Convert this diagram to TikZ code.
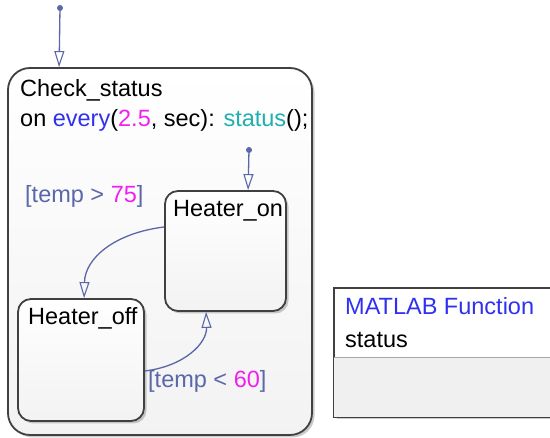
\documentclass[tikz,border=0pt]{standalone}
\usepackage{fontspec}
\setmainfont{Liberation Sans}
\usetikzlibrary{arrows.meta,shadows,calc}
\definecolor{trans}{HTML}{5A67A8}
\definecolor{mag}{HTML}{F020F0}
\definecolor{kwblue}{HTML}{3030F0}
\definecolor{teal2}{HTML}{20B0B0}
\definecolor{edge}{HTML}{404040}
\tikzset{
  chartstate/.style={draw=edge, line width=1.8pt, rounded corners=#1, top color=white, bottom color=black!5,
    drop shadow={shadow xshift=2.5pt, shadow yshift=-2.5pt, fill=black!45, opacity=.45}},
  transline/.style={draw=trans, line width=1.3pt, -{Triangle[open, length=16pt, width=10pt, line width=1.1pt]}},
  initdot/.style={circle, fill=trans, inner sep=0pt, minimum size=6pt},
  lbl/.style={anchor=base west, inner sep=0pt, font=\fontsize{23.5}{28}\selectfont},
}
\begin{document}
\begin{tikzpicture}[x=1pt,y=1pt]
\useasboundingbox (0,0) rectangle (550,438);
\clip (0,0) rectangle (550,438);
\fill[white] (0,0) rectangle (550,438);
% outer state
\node[chartstate=22pt, minimum width=304pt, minimum height=367pt] (cs) at (160,186.5) {};
\node[chartstate=13pt, minimum width=121pt, minimum height=120pt] (hon) at (225.5,187) {};
\node[chartstate=13pt, minimum width=126pt, minimum height=122pt] (hoff) at (81,78) {};
% MATLAB function box
\node[draw=edge, line width=1.8pt, fill=white, minimum width=226pt, minimum height=129pt,
  drop shadow={shadow xshift=2.5pt, shadow yshift=-2.5pt, fill=black!45, opacity=.45}] (mf) at (447,85.5) {};
\fill[black!6] ($(mf.south west)+(0.9,0.9)$) rectangle ($(mf.east)+(-0.9,-5)$);
\draw[black!35, line width=0.8pt] ($(mf.west)+(0.9,-5)$) -- ($(mf.east)+(-0.9,-5)$);
% default transitions
\node[initdot] (d1) at (60,430) {};
\coordinate (t1) at ($(cs.north west)+(52,0)$);
\draw[transline] (d1) -- (t1);
\node[initdot] (d2) at (249,288) {};
\coordinate (t2) at ($(hon.north west)+(84,0)$);
\draw[transline] (d2) -- (t2);
% transitions
\coordinate (a1) at ($(hon.west)+(0,24)$);
\coordinate (b1) at ($(hoff.north west)+(67,0)$);
\draw[transline] (a1) .. controls (115,205) and (85,180) .. (b1);
\coordinate (a2) at ($(hoff.east)+(0,-11)$);
\coordinate (b2) at ($(hon.south west)+(42,0)$);
\draw[transline] (a2) .. controls (185,72) and (207,95) .. (b2);
% texts
\node[lbl] (cst) at (20,341) {Check\_status};
\node[lbl] (csa) at (20,311) {on \textcolor{kwblue}{every}(\textcolor{mag}{2.5}, sec): \textcolor{teal2}{status}();};
\node[lbl] (hont) at (173,221) {Heater\_on};
\node[lbl] (hofft) at (28,113) {Heater\_off};
\node[lbl, text=trans] (g1) at (25,235) {[temp > \textcolor{mag}{75}]};
\node[lbl, text=trans] (g2) at (148,50) {[temp < \textcolor{mag}{60}]};
\node[lbl, text=kwblue] (mft) at (345,123) {MATLAB Function};
\node[lbl] (mfs) at (345,90) {status};
\end{tikzpicture}
\end{document}
